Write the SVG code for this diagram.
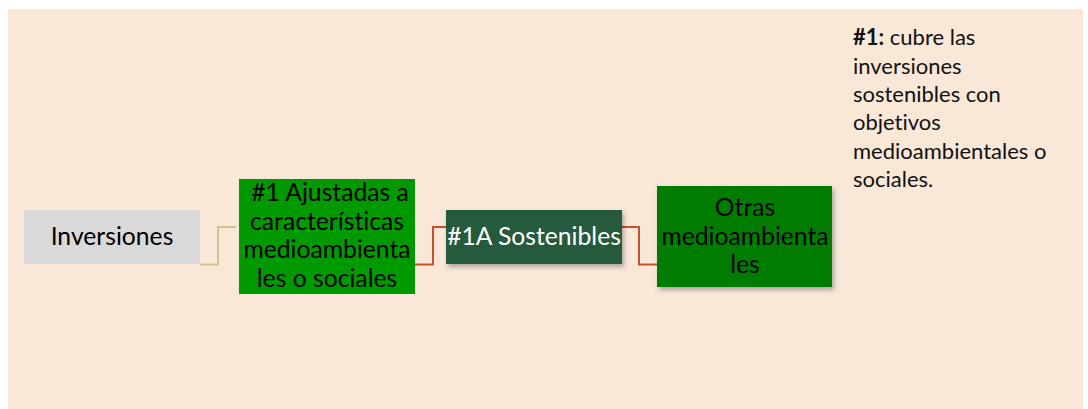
<svg xmlns="http://www.w3.org/2000/svg" width="1088" height="409" viewBox="0 0 1088 409">
<defs>
<style>
text{font-variant-ligatures:none;font-feature-settings:"liga" 0,"clig" 0}
.t{font-family:Lato,"Open Sans","Liberation Sans",sans-serif;font-size:24.7px;fill:#000;text-anchor:middle}
.n{font-family:Lato,"Open Sans","Liberation Sans",sans-serif;font-size:22px;fill:#111}
.c{fill:none;stroke-width:2}
</style>
<filter id="sh" x="-10%" y="-10%" width="130%" height="140%">
<feDropShadow dx="2" dy="3" stdDeviation="2.5" flood-color="#000" flood-opacity="0.3"/>
</filter>
</defs>
<rect x="0" y="0" width="1088" height="409" fill="#fff"/>
<rect x="8" y="9" width="1075" height="400" fill="#f9e8d8"/>
<g id="connectors">
<path class="c" stroke="#d3c38f" d="M200,264.5 H218 V227 H236"/>
<path class="c" stroke="#c8502e" d="M415,264.5 H433 V227 H446"/>
<path class="c" stroke="#c8502e" d="M622,227 H639 V264.5 H657"/>
</g>
<g id="node-inversiones">
<rect x="24" y="210" width="176" height="54" fill="#d9d9d9"/>
<text class="t" x="112" y="245">Inversiones</text>
</g>
<g id="node-ajustadas">
<rect x="239" y="179" width="176" height="115" fill="#009900"/>
<text class="t"><tspan x="330" y="201">#1 Ajustadas a</tspan><tspan x="327" y="230">características</tspan><tspan x="327" y="258">medioambienta</tspan><tspan x="327" y="287">les o sociales</tspan></text>
</g>
<g id="node-sostenibles">
<rect x="446" y="210" width="176" height="54" fill="#285a3c" filter="url(#sh)"/>
<text class="t" x="534" y="245" style="fill:#fff">#1A Sostenibles</text>
</g>
<g id="node-otras">
<rect x="657" y="186" width="175" height="101" fill="#007d00" filter="url(#sh)"/>
<text class="t"><tspan x="745" y="216">Otras</tspan><tspan x="745" y="245">medioambienta</tspan><tspan x="745" y="273">les</tspan></text>
</g>
<g id="note">
<text class="n"><tspan x="853" y="45"><tspan font-weight="bold">#1:</tspan> cubre las</tspan><tspan x="853" y="74">inversiones</tspan><tspan x="853" y="102">sostenibles con</tspan><tspan x="853" y="130">objetivos</tspan><tspan x="853" y="159">medioambientales o</tspan><tspan x="853" y="187">sociales.</tspan></text>
</g>
</svg>
